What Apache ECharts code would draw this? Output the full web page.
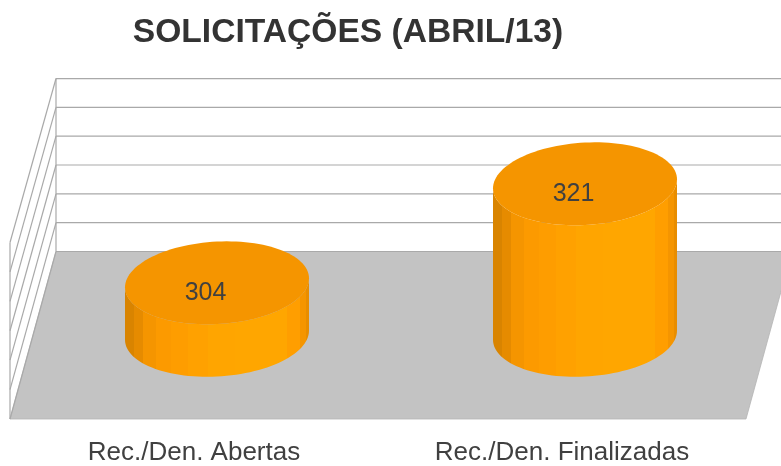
<!DOCTYPE html>
<html>
<head>
<meta charset="utf-8">
<style>html,body{margin:0;padding:0;background:#fff}#c{width:781px;height:466px}</style>
<script src="https://cdn.jsdelivr.net/npm/echarts@6/dist/echarts.min.js"></script>
</head>
<body>
<div id="c"></div>
<script>
var titleText = 'SOLICITAÇÕES (ABRIL/13)';
var categories = ['Rec./Den. Abertas', 'Rec./Den. Finalizadas'];
var values = [304, 321];
var yTicks = [295, 300, 305, 310, 315, 320, 325];

var DEPTH_X = 46, DEPTH_Y = -167.5, BACK_SCALE = 0.98;
var MID_SCALE = (1 + BACK_SCALE) / 2;
var WALL = '#a9a9a9', FLOOR = '#c3c3c3', TOP = '#f59500', TEXT = '#404040';
var SIDE_BANDS = [
  [0.00, '#d98400'], [0.05, '#e68b00'], [0.10, '#f59500'], [0.17, '#fc9a00'],
  [0.25, '#fe9d00'], [0.34, '#ffa100'], [0.45, '#ffa500'], [0.60, '#ffa600'],
  [0.88, '#ff9e00'], [0.95, '#f59500'], [0.985, '#e88d00']
];
function hardStops(b) {
  var s = [];
  b.forEach(function (e, i) {
    s.push({ offset: e[0], color: e[1] });
    var next = i + 1 < b.length ? b[i + 1][0] : 1;
    s.push({ offset: next, color: e[1] });
  });
  return s;
}
var LW = { stroke: WALL, lineWidth: 1.2 };

function ellipsePoints(cx, cy, a, b, tilt, from, to, n) {
  var pts = [];
  for (var i = 0; i <= n; i++) {
    var t = from + (to - from) * i / n;
    pts.push([cx + a * Math.cos(t), cy + tilt * Math.cos(t) + b * Math.sin(t)]);
  }
  return pts;
}

function renderFloor(params, api) {
  var r = params.coordSys;
  var y0 = r.y + r.height, x0 = r.x, x1 = r.x + r.width;
  return {
    type: 'polygon', silent: true,
    shape: { points: [[x0, y0], [x1, y0], [x1 + DEPTH_X, y0 + DEPTH_Y], [x0 + DEPTH_X, y0 + DEPTH_Y]] },
    style: { fill: FLOOR, stroke: '#b4b4b4', lineWidth: 0.8 }
  };
}

function renderWall(params, api) {
  var r = params.coordSys;
  var y0 = r.y + r.height, x0 = r.x, x1 = r.x + r.width;
  var fy = api.coord([0, api.value(1)])[1];
  var by = y0 + DEPTH_Y - (y0 - fy) * BACK_SCALE;
  return {
    type: 'group', silent: true,
    children: [
      { type: 'line', shape: { x1: x0, y1: fy, x2: x0 + DEPTH_X, y2: by }, style: LW },
      { type: 'line', shape: { x1: x0 + DEPTH_X, y1: by, x2: x1 + DEPTH_X, y2: by }, style: LW }
    ]
  };
}

function renderEdges(params, api) {
  var r = params.coordSys;
  var y0 = r.y + r.height, x0 = r.x;
  var by = y0 + DEPTH_Y;
  return {
    type: 'group', silent: true,
    children: [
      { type: 'line', shape: { x1: x0, y1: r.y, x2: x0, y2: y0 }, style: LW },
      { type: 'line', shape: { x1: x0 + DEPTH_X, y1: by - r.height * BACK_SCALE, x2: x0 + DEPTH_X, y2: by }, style: LW }
    ]
  };
}

function renderCylinder(params, api) {
  var cat = api.value(0), val = api.value(1);
  var r = params.coordSys;
  var y0 = r.y + r.height;
  var band = api.size([1, 0])[0];
  var a = band * 0.25, b = a * 0.4484, tilt = -a * 0.049;
  var front = api.coord([cat, val]);
  var cx = front[0] + DEPTH_X / 2;
  var baseY = y0 + DEPTH_Y / 2;
  var topY = baseY - (y0 - front[1]) * MID_SCALE;
  var side = ellipsePoints(cx, baseY, a, b, tilt, Math.PI, 0, 60)
    .concat(ellipsePoints(cx, topY, a, b, tilt, 0, Math.PI, 60));
  var top = ellipsePoints(cx, topY, a, b, tilt, 0, Math.PI * 2, 120);
  return {
    type: 'group', silent: true,
    children: [
      { type: 'polygon', shape: { points: side },
        style: { fill: { type: 'linear', x: 0, y: 0, x2: 1, y2: 0, colorStops: hardStops(SIDE_BANDS) } } },
      { type: 'polygon', shape: { points: top }, style: { fill: TOP } },
      { type: 'text', x: cx - 11.5, y: topY + 10,
        style: { text: String(val), fill: TEXT, font: '25px "Liberation Sans", Arial, sans-serif', align: 'center', verticalAlign: 'middle' } }
    ]
  };
}

var chart = echarts.init(document.getElementById('c'), null, { renderer: 'canvas' });
chart.setOption({
  animation: false,
  backgroundColor: '#ffffff',
  title: {
    text: titleText, left: 343, top: 11, textAlign: 'center',
    textStyle: { fontFamily: '"Liberation Sans", Arial, sans-serif', fontSize: 33.6, fontWeight: 'bold', color: '#333333' }
  },
  grid: { left: 10, right: 35, top: 242.5, bottom: 46.5 },
  xAxis: {
    type: 'category', data: categories,
    axisLine: { show: false }, axisTick: { show: false }, splitLine: { show: false },
    axisLabel: { color: TEXT, fontFamily: '"Liberation Sans", Arial, sans-serif', fontSize: 26, margin: 21, interval: 0 }
  },
  yAxis: { type: 'value', min: 295, max: 325, interval: 5, show: false },
  series: [
    { type: 'custom', clip: false, renderItem: renderFloor, data: [[0, yTicks[0]]], z: 1 },
    { type: 'custom', clip: false, renderItem: renderWall, data: yTicks.map(function (v) { return [0, v]; }), z: 2 },
    { type: 'custom', clip: false, renderItem: renderEdges, data: [[0, yTicks[0]]], z: 2 },
    { type: 'custom', clip: false, renderItem: renderCylinder, data: values.map(function (v, i) { return [i, v]; }), z: 3 }
  ]
});
</script>
</body>
</html>
